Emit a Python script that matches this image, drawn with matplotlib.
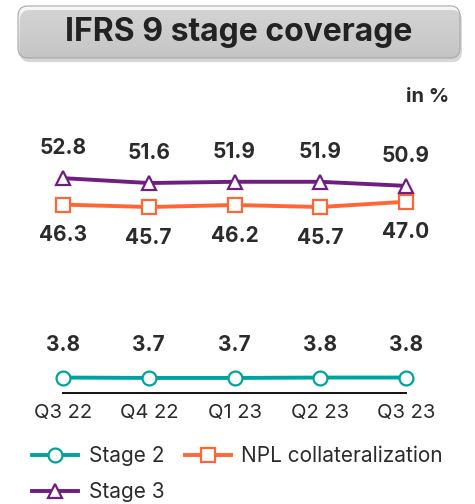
import matplotlib.pyplot as plt
import numpy as np
from matplotlib.patches import FancyBboxPatch

plt.rcParams['font.family'] = ['Inter', 'DejaVu Sans']

quarters = ['Q3 22', 'Q4 22', 'Q1 23', 'Q2 23', 'Q3 23']
stage2 = [3.8, 3.7, 3.7, 3.8, 3.8]
npl_coll = [46.3, 45.7, 46.2, 45.7, 47.0]
stage3 = [52.8, 51.6, 51.9, 51.9, 50.9]

teal = '#00A39B'
orange = '#FF6633'
purple = '#6E1E80'
txt = '#2B2B2B'

W, H = 475, 504
fig = plt.figure(figsize=(W / 100, H / 100), dpi=100)

# title box with gradient and shadow
bx0, by0, bx1, by1 = 18 / W, 1 - 58 / H, 460 / W, 1 - 6 / H
shadow = FancyBboxPatch((bx0 + 0.004, by0 - 0.008), bx1 - bx0, by1 - by0,
                        boxstyle='round,pad=0,rounding_size=0.02',
                        transform=fig.transFigure, fc='#bdbdbd', ec='none',
                        alpha=0.6, zorder=1)
fig.patches.append(shadow)
box = FancyBboxPatch((bx0, by0), bx1 - bx0, by1 - by0,
                     boxstyle='round,pad=0,rounding_size=0.02',
                     transform=fig.transFigure, fc='none', ec='#a8a8a8',
                     lw=0.8, zorder=3)
fig.patches.append(box)
bg = fig.add_axes([0, 0, 1, 1], zorder=0)
bg.set_xlim(0, 1)
bg.set_ylim(0, 1)
bg.axis('off')
grad = np.linspace(0, 1, 100).reshape(-1, 1)
im = bg.imshow(grad, cmap=plt.matplotlib.colors.LinearSegmentedColormap.from_list(
    'g', ['#d2d2d2', '#f8f8f8']), extent=(bx0, bx1, by0, by1), origin='lower',
    aspect='auto', zorder=2)
clip = FancyBboxPatch((bx0, by0), bx1 - bx0, by1 - by0,
                      boxstyle='round,pad=0,rounding_size=0.02',
                      transform=bg.transData, fc='none', ec='none')
bg.add_patch(clip)
im.set_clip_path(clip)
fig.text((bx0 + bx1) / 2, (by0 + by1) / 2, 'IFRS 9 stage coverage',
         ha='center', va='center', fontsize=23, fontweight='bold', color='#222222')
fig.text(449 / W, 1 - 97 / H, 'in %', ha='right', va='center',
         fontsize=14.5, fontweight='bold', color=txt)

ax = fig.add_axes([63 / W, 1 - 393 / H, (406 - 63) / W, (393 - 100) / H])
x = np.arange(len(quarters))
mk = dict(markerfacecolor='white', markersize=10, markeredgewidth=1.6,
          lw=2.8, clip_on=False)
l2, = ax.plot(x, stage2, color=teal, marker='o', label='Stage 2', zorder=3, **mk)
ln, = ax.plot(x, npl_coll, color=orange, marker='s',
              label='NPL collateralization', zorder=3, **mk)
l3, = ax.plot(x, stage3, color=purple, marker='^', label='Stage 3', zorder=3, **mk)

lab = dict(ha='center', va='center', fontsize=15, fontweight='bold', color=txt)
for i in x:
    ax.annotate(f'{stage3[i]:.1f}', (i, stage3[i]), xytext=(0, 21.5),
                textcoords='offset points', **lab)
    ax.annotate(f'{npl_coll[i]:.1f}', (i, npl_coll[i]), xytext=(0, -22),
                textcoords='offset points', **lab)
    ax.annotate(f'{stage2[i]:.1f}', (i, stage2[i]), xytext=(0, 23.5),
                textcoords='offset points', **lab)

ax.set_xlim(0, 4)
ax.set_ylim(0, 72)
ax.set_xticks(x)
ax.set_xticklabels(quarters, fontsize=14.5, color=txt)
ax.tick_params(axis='x', length=0, pad=8)
ax.set_yticks([])
for s in ['left', 'right', 'top']:
    ax.spines[s].set_visible(False)
ax.spines['bottom'].set_color('#111111')
ax.spines['bottom'].set_linewidth(1.4)

# column-major fill: Stage 2 / Stage 3 in first column, NPL in second
fig.legend([l2, l3, ln], ['Stage 2', 'Stage 3', 'NPL collateralization'],
           loc='upper left', bbox_to_anchor=(24 / W, 1 - 438 / H), ncol=2,
           frameon=False, fontsize=15, handlelength=2.2, columnspacing=1.0,
           labelspacing=0.75, handletextpad=0.5, labelcolor=txt,
           borderaxespad=0)

fig.savefig('out.png', dpi=100)
